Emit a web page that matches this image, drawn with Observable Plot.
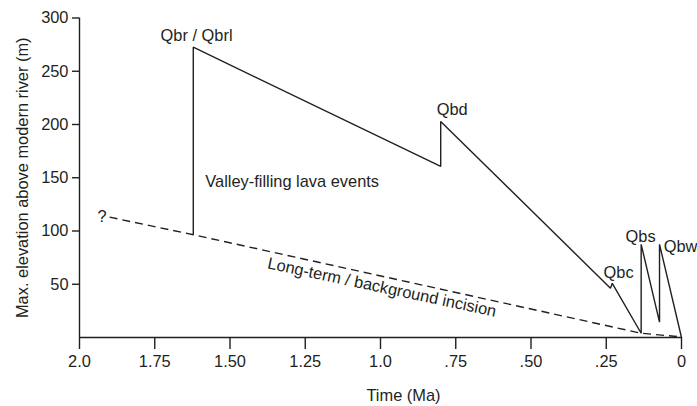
<!DOCTYPE html>
<html><head><meta charset="utf-8">
<script src="https://cdn.jsdelivr.net/npm/d3@7"></script>
<script src="https://cdn.jsdelivr.net/npm/@observablehq/plot@0.6"></script>
<style>body{margin:0;background:#fff}</style>
</head><body><div id="chart"></div>
<script>
// Solid line: valley-filling lava events (time in Ma, elevation in m)
const lavaTime = [1.622, 1.622, 0.80, 0.80, 0.236, 0.230, 0.134, 0.134, 0.073, 0.073, 0];
const lavaElev = [96.5, 272.6, 160.6, 202.8, 46.3, 50.9, 4.0, 87.5, 14.4, 87.5, 0];
// Dashed line: long-term / background incision
const bgTime = [1.90, 1.622, 0.134, 0];
const bgElev = [113, 96.5, 4, 0.5];
// Ticks
const xTicks = [2, 1.75, 1.5, 1.25, 1, 0.75, 0.5, 0.25, 0];
const xTickLabels = ["2.0", "1.75", "1.50", "1.25", "1.0", ".75", ".50", ".25", "0"];
const yTicks = [50, 100, 150, 200, 250, 300];
// Annotations
const labelText = ["Qbr / Qbrl", "Qbd", "Qbc", "Qbs", "Qbw", "?"];
const labelTime = [1.611, 0.762, 0.209, 0.136, 0.003, 1.925];
const labelElev = [283.6, 214.3, 61, 95, 85.5, 113.6];
const noteText = ["Valley-filling lava events"];
const noteTime = [1.582];
const noteElev = [145.8];
const bgNoteText = ["Long-term / background incision"];
const bgNoteTime = [0.995];
const bgNoteElev = [47];

const lava = lavaTime.map((t, i) => ({t, e: lavaElev[i]}));
const bg = bgTime.map((t, i) => ({t, e: bgElev[i]}));
const labels = labelText.map((s, i) => ({s, t: labelTime[i], e: labelElev[i]}));
const notes = noteText.map((s, i) => ({s, t: noteTime[i], e: noteElev[i]}));
const bgNotes = bgNoteText.map((s, i) => ({s, t: bgNoteTime[i], e: bgNoteElev[i]}));

const ink = "#231f20";
const fs = 16.4;
const chart = Plot.plot({
  width: 697,
  height: 406,
  marginLeft: 79,
  marginRight: 16,
  marginTop: 17.5,
  marginBottom: 69,
  style: {fontFamily: "'Liberation Sans', Arial, sans-serif", fontSize: fs + "px", color: ink, background: "#fff"},
  x: {domain: [2, 0], label: null},
  y: {domain: [0, 300], label: null},
  marks: [
    Plot.axisX({ticks: xTicks, tickFormat: (d, i) => xTickLabels[i], tickSize: 12, tickPadding: 6, label: null, strokeWidth: 1.4, fontSize: fs}),
    Plot.axisY({ticks: yTicks, tickSize: 7, tickPadding: 4, label: null, strokeWidth: 1.4, fontSize: fs}),
    Plot.ruleX([2], {y1: 0, y2: 300, stroke: ink, strokeWidth: 1.4}),
    Plot.ruleY([0], {x1: 2, x2: 0, stroke: ink, strokeWidth: 1.4}),
    Plot.line(bg, {x: "t", y: "e", stroke: ink, strokeWidth: 1.4, strokeDasharray: "8,5", strokeLinecap: "butt"}),
    Plot.line(lava, {x: "t", y: "e", stroke: ink, strokeWidth: 1.4, strokeLinejoin: "miter", strokeLinecap: "butt"}),
    Plot.text(labels, {x: "t", y: "e", text: "s", fill: ink, fontSize: fs, textAnchor: "middle", lineAnchor: "middle"}),
    Plot.text(notes, {x: "t", y: "e", text: "s", fill: ink, fontSize: fs, textAnchor: "start", lineAnchor: "middle"}),
    Plot.text(bgNotes, {x: "t", y: "e", text: "s", fill: ink, fontSize: fs, textAnchor: "middle", lineAnchor: "middle", rotate: 12}),
    Plot.text(["Max. elevation above modern river (m)"], {frameAnchor: "left", dx: -57, rotate: -90, fill: ink, fontSize: fs, textAnchor: "middle", lineAnchor: "middle"}),
    Plot.text(["Time (Ma)"], {frameAnchor: "bottom", dx: 23, dy: 58, fill: ink, fontSize: fs, textAnchor: "middle", lineAnchor: "middle"})
  ]
});
document.getElementById("chart").appendChild(chart);
</script>
</body></html>
